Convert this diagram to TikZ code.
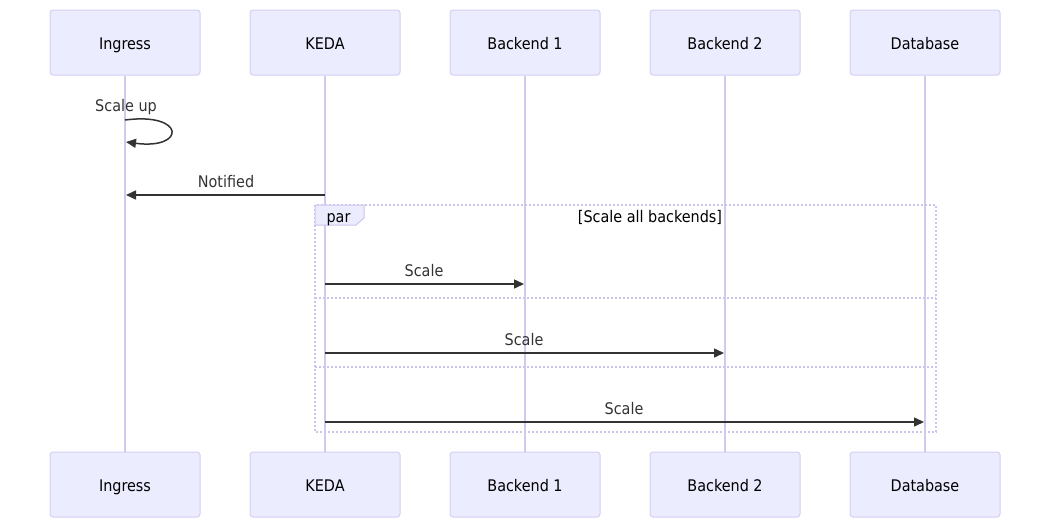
\documentclass[tikz,border=0pt]{standalone}
\usepackage{fontspec}
\setmainfont{DejaVu Sans Condensed}
\usetikzlibrary{arrows.meta}
\definecolor{boxfill}{HTML}{ECECFF}
\definecolor{boxline}{HTML}{D4CFF3}
\definecolor{lifecol}{HTML}{D2C9EF}
\definecolor{parcol}{HTML}{CDC4EE}
\definecolor{arrcol}{HTML}{333333}
\begin{document}
\begin{tikzpicture}[x=1pt,y=-1pt,
  part/.style={rectangle, rounded corners=3pt, fill=boxfill, draw=boxline, line width=1pt,
    minimum width=150pt, minimum height=65pt, inner sep=0pt, text height=16pt, text depth=3pt,
    font=\fontsize{16}{19}\selectfont, text=black},
  lifeline/.style={draw=lifecol, line width=2pt},
  msg/.style={draw=arrcol, line width=1.5pt, -{Triangle[length=10pt,width=9pt]}},
  msglabel/.style={font=\fontsize{16}{19}\selectfont, text=arrcol, inner sep=0pt, anchor=base},
  parbox/.style={draw=parcol, line width=1.5pt, dash pattern=on 2pt off 2pt},
]
\useasboundingbox (0,0) rectangle (1050,528);
% participants
\node[part] (ingT) at (125,42.5) {Ingress};
\node[part] (kedT) at (325,42.5) {KEDA};
\node[part] (b1T) at (525,42.5) {Backend 1};
\node[part] (b2T) at (725,42.5) {Backend 2};
\node[part] (dbT) at (925,42.5) {Database};
\node[part] (ingB) at (125,484.5) {Ingress};
\node[part] (kedB) at (325,484.5) {KEDA};
\node[part] (b1B) at (525,484.5) {Backend 1};
\node[part] (b2B) at (725,484.5) {Backend 2};
\node[part] (dbB) at (925,484.5) {Database};
% lifelines
\draw[lifeline] (ingT) -- (ingB);
\draw[lifeline] (kedT) -- (kedB);
\draw[lifeline] (b1T) -- (b1B);
\draw[lifeline] (b2T) -- (b2B);
\draw[lifeline] (dbT) -- (dbB);
% par frame
\coordinate (parTL) at (315,205);
\coordinate (parBR) at (936,432);
\draw[parbox] (parTL) rectangle (parBR);
\coordinate (div1L) at (315,298);
\coordinate (div1R) at (936,298);
\coordinate (div2L) at (315,367);
\coordinate (div2R) at (936,367);
\draw[parbox] (div1L) -- (div1R);
\draw[parbox] (div2L) -- (div2R);
\draw[fill=boxfill, draw=parcol, line width=1pt] (315,205) -- (364,205) -- (364,218) -- (356,225) -- (315,225) -- cycle;
\node[msglabel, text=black] (parlbl) at (338.5,222.5) {par};
\node[msglabel, text=black] (parcond) at (650,222.5) {[Scale all backends]};
% self message
\coordinate (su1) at (125,120);
\coordinate (su2) at (126,142);
\draw[msg] (su1) .. controls (186,112) and (186,150) .. (su2);
\node[msglabel] (sulbl) at (126,111) {Scale up};
% notified
\coordinate (nk) at (325,195);
\coordinate (ni) at (126,195);
\draw[msg] (nk) -- (ni);
\node[msglabel] (nlbl) at (226,187.5) {Notified};
% scale messages
\coordinate (s1a) at (325,284);
\coordinate (s1b) at (524,284);
\draw[msg] (s1a) -- (s1b);
\node[msglabel] (s1lbl) at (424,276) {Scale};
\coordinate (s2a) at (325,353);
\coordinate (s2b) at (724,353);
\draw[msg] (s2a) -- (s2b);
\node[msglabel] (s2lbl) at (524,345) {Scale};
\coordinate (s3a) at (325,422);
\coordinate (s3b) at (924,422);
\draw[msg] (s3a) -- (s3b);
\node[msglabel] (s3lbl) at (624,414) {Scale};
\end{tikzpicture}
\end{document}
